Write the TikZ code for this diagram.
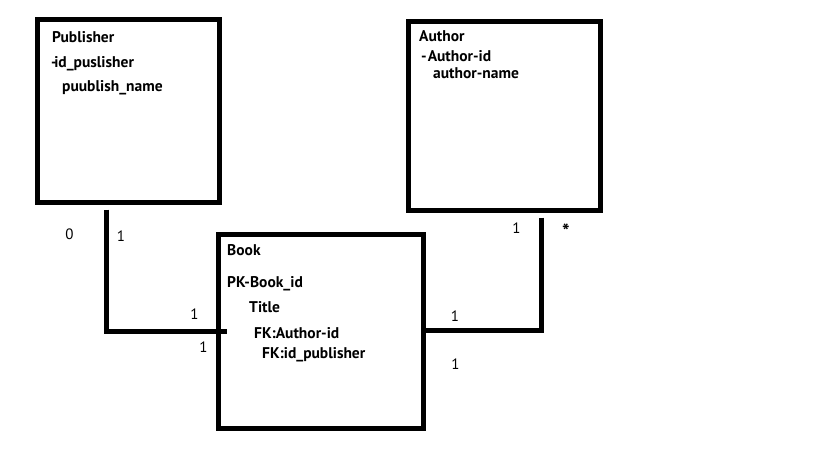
\documentclass[tikz,border=0pt]{standalone}
\usepackage{fontspec}
\setmainfont{PT Sans}
\usetikzlibrary{calc}
\begin{document}
\begin{tikzpicture}[x=1pt,y=-1pt,
  box/.style={draw,line width=5pt,rectangle,inner sep=0pt},
  txt/.style={anchor=base west,inner sep=0pt,font=\fontsize{15.5}{18}\selectfont\bfseries},
  lbl/.style={inner sep=0pt,font=\fontsize{15}{18}\selectfont},
  conn/.style={line width=5pt}]
\useasboundingbox (0,0) rectangle (819,460);
\fill[white] (0,0) rectangle (819,460);
% boxes
\node[box,minimum width=182pt,minimum height=183pt] (pub) at (128.5,111) {};
\node[box,minimum width=192pt,minimum height=189pt] (auth) at (504.5,116) {};
\node[box,minimum width=205pt,minimum height=194pt] (book) at (321,331.5) {};
% texts
\node[txt] (pubt) at (52,43) {Publisher};
\node[txt] (pubid) at (51,67) {-\kern-2.5pt id\_puslisher};
\node[txt] (pubn) at (62,92) {puublish\_name};
\node[txt] (autht) at (419,42) {Author};
\node[txt] (authid) at (421,62) {-\kern1pt Author-id};
\node[txt] (authn) at (433,78) {author-name};
\node[txt] (bookt) at (227,255) {Book};
\node[txt] (bookid) at (227,287) {PK-Book\_id};
\node[txt] (title) at (249,312) {Title};
\node[txt] (fka) at (254,338) {FK:Author-id};
\node[txt] (fkp) at (262,358) {FK:id\_publisher};
% connectors
\coordinate (pbc) at (106,331);
\coordinate (pbend) at (227,331);
\draw[conn] ($(pub.south -| pbc)+(0,4.5)$) -- (pbc) -- (pbend);
\coordinate (abc) at (541,330);
\draw[conn] ($(auth.south -| abc)+(0,4.5)$) -- (abc) -- (book.east |- abc);
% labels
\node[lbl] (l0) at (69.5,234.5) {0};
\node[lbl] (l1) at (121,236.5) {1};
\node[lbl] (l2) at (194.5,314.5) {1};
\node[lbl] (l3) at (203.5,347.5) {1};
\node[lbl] (l4) at (455,316.5) {1};
\node[lbl] (l5) at (455.5,364.5) {1};
\node[lbl] (l6) at (516.5,228.5) {1};
\node[lbl,anchor=north,font=\fontsize{20}{22}\selectfont\bfseries] (l7) at (566,223.5) {*};
\end{tikzpicture}
\end{document}
